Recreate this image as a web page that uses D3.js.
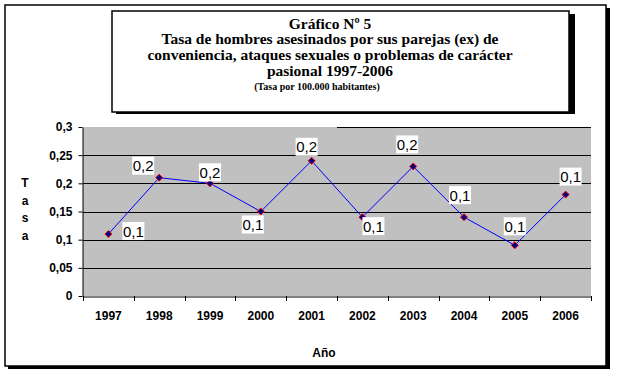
<!DOCTYPE html>
<html>
<head>
<meta charset="utf-8">
<script src="https://cdn.jsdelivr.net/npm/d3@7"></script>
<style>
  body { margin: 0; background: #fff; }
  svg { display: block; }
  .tick text { font-family: Arial, "Liberation Sans", sans-serif; font-weight: bold; font-size: 12px; fill: #000; }
  .ttl { font-family: "Times New Roman", "Liberation Serif", serif; font-weight: bold; fill: #000; }
  .lbl { font-family: Arial, "Liberation Sans", sans-serif; font-size: 15px; fill: #000; }
  .axt { font-family: Arial, "Liberation Sans", sans-serif; font-weight: bold; font-size: 12px; fill: #000; }
</style>
</head>
<body>
<svg id="chart" width="620" height="383"></svg>
<script>
const years = ['1997', '1998', '1999', '2000', '2001', '2002', '2003', '2004', '2005', '2006'];
const rates = [0.11, 0.21, 0.20, 0.15, 0.24, 0.14, 0.23, 0.14, 0.09, 0.18];
const dataLabels = ['0,1', '0,2', '0,2', '0,1', '0,2', '0,1', '0,2', '0,1', '0,1', '0,1'];
const yTicks = [0, 0.05, 0.1, 0.15, 0.2, 0.25, 0.3];
const titleLines = [
  'Gráfico Nº 5',
  'Tasa de hombres asesinados por sus parejas (ex) de',
  'conveniencia, ataques sexuales o problemas de carácter',
  'pasional 1997-2006',
];
const subtitle = '(Tasa por 100.000 habitantes)';
const yTitle = ['T', 'a', 's', 'a'];
const xTitle = 'Año';

// label placement relative to each point (dx, dy of the box centre)
const labelOffsets = [[25, -3], [-16, -12], [0, -11], [-8, 13], [-5, -14],
  [11, 9], [-6, -22], [-4, -22], [0, -19], [5, -18]];

const svg = d3.select('#chart');
const plot = { left: 83, right: 591, top: 127, bottom: 296 };

// outer frame with shadow
svg.append('rect').attr('x', 8).attr('y', 8).attr('width', 602).attr('height', 361).attr('fill', '#000');
svg.append('rect').attr('x', 5).attr('y', 5).attr('width', 601).attr('height', 361)
  .attr('fill', '#fff').attr('stroke', '#000').attr('stroke-width', 1.5);

// title box
svg.append('rect').attr('x', 116).attr('y', 14).attr('width', 459).attr('height', 100).attr('fill', '#000');
svg.append('rect').attr('x', 112).attr('y', 11).attr('width', 457).attr('height', 101)
  .attr('fill', '#fff').attr('stroke', '#000').attr('stroke-width', 1.5);

titleLines.forEach((t, i) => {
  svg.append('text').attr('class', 'ttl').attr('x', 330).attr('y', 28.5 + i * 15.7)
    .attr('text-anchor', 'middle').style('font-size', '15.5px').text(t);
});
svg.append('text').attr('class', 'ttl').attr('x', 317).attr('y', 89.5)
  .attr('text-anchor', 'middle').style('font-size', '10px').text(subtitle);

const x = d3.scaleBand().domain(years).range([plot.left, plot.right]).padding(0);
const y = d3.scaleLinear().domain([0, 0.3]).range([plot.bottom, plot.top]);
const fmt = d3.formatLocale({ decimal: ',', thousands: '.', grouping: [3], currency: ['', ''] }).format('~g');

// plot area
svg.append('rect').attr('x', plot.left).attr('y', plot.top)
  .attr('width', plot.right - plot.left).attr('height', plot.bottom - plot.top).attr('fill', '#c0c0c0');

// gridlines (top one only partly visible in the original)
svg.append('g').selectAll('line').data(yTicks.filter((d) => d > 0 && d < 0.3)).join('line')
  .attr('x1', plot.left).attr('x2', plot.right)
  .attr('y1', (d) => Math.round(y(d)) + 0.5).attr('y2', (d) => Math.round(y(d)) + 0.5)
  .attr('stroke', '#000').attr('stroke-width', 1);
svg.append('line').attr('x1', x('2002')).attr('x2', plot.right)
  .attr('y1', Math.round(y(0.3)) + 0.5).attr('y2', Math.round(y(0.3)) + 0.5)
  .attr('stroke', '#000');

// y axis
const yAxis = svg.append('g').attr('transform', `translate(${plot.left - 0.5},0)`)
  .call(d3.axisLeft(y).tickValues(yTicks).tickFormat(fmt).tickSize(4).tickSizeOuter(0).tickPadding(6));
yAxis.select('.domain').attr('stroke', '#000');

// x axis: labels at band centres, ticks on band edges
const xAxis = svg.append('g').attr('transform', `translate(0,${plot.bottom + 0.5})`)
  .call(d3.axisBottom(x).tickSize(0).tickPadding(15));
xAxis.select('.domain').attr('stroke', '#000');
const edges = years.map((d) => x(d)).concat([plot.right]);
svg.append('g').selectAll('line').data(edges).join('line')
  .attr('x1', (d) => Math.round(d) + 0.5).attr('x2', (d) => Math.round(d) + 0.5)
  .attr('y1', plot.bottom).attr('y2', plot.bottom + 5).attr('stroke', '#000');

// axis titles
yTitle.forEach((c, i) => {
  svg.append('text').attr('class', 'axt').attr('x', 25).attr('y', 187 + i * 17.5)
    .attr('text-anchor', 'middle').text(c);
});
svg.append('text').attr('class', 'axt').attr('x', 324).attr('y', 357)
  .attr('text-anchor', 'middle').text(xTitle);

// series
const cx = (d, i) => x(years[i]) + x.bandwidth() / 2;
const line = d3.line().x((d, i) => cx(d, i)).y((d) => y(d));
svg.append('path').datum(rates).attr('d', line)
  .attr('fill', 'none').attr('stroke', '#0000ff').attr('stroke-width', 1);

svg.append('g').selectAll('path').data(rates).join('path')
  .attr('transform', (d, i) => `translate(${cx(d, i)},${y(d)})`)
  .attr('d', 'M0,-3.5L3.5,0L0,3.5L-3.5,0Z')
  .attr('fill', '#000080').attr('stroke', '#ff0000').attr('stroke-width', 1);

// data labels
const lab = svg.append('g').selectAll('g').data(rates).join('g')
  .attr('transform', (d, i) => `translate(${cx(d, i) + labelOffsets[i][0]},${y(d) + labelOffsets[i][1]})`);
lab.append('rect').attr('x', -11).attr('y', -9).attr('width', 22).attr('height', 18).attr('fill', '#fff');
lab.append('text').attr('class', 'lbl').attr('text-anchor', 'middle').attr('y', 5.5)
  .text((d, i) => dataLabels[i]);
</script>
</body>
</html>
